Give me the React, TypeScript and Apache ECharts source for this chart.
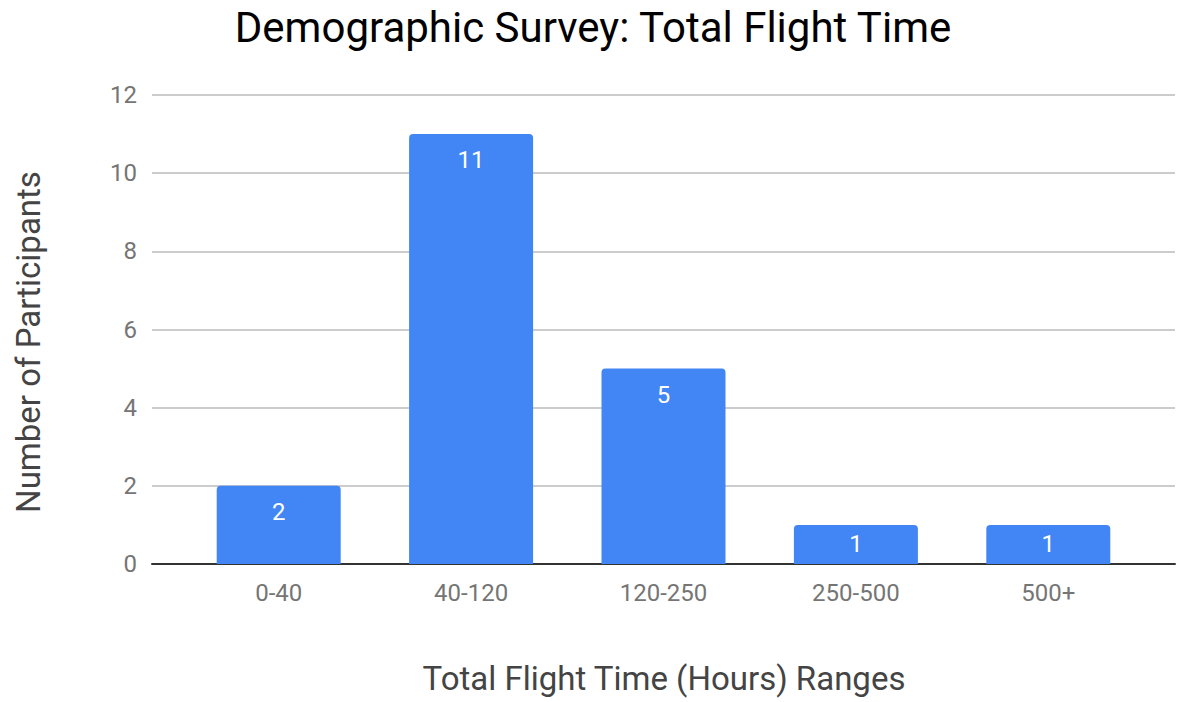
import React, { useEffect, useRef } from "react";
import * as echarts from "echarts";

const categories = ["0-40", "40-120", "120-250", "250-500", "500+"];
const participants = [2, 11, 5, 1, 1];
const yTicks = { min: 0, max: 12, interval: 2 };
const titleText = "Demographic Survey: Total Flight Time";
const xName = "Total Flight Time (Hours) Ranges";
const yName = "Number of Participants";

export default function App() {
  const ref = useRef<HTMLDivElement>(null);
  useEffect(() => {
    if (!ref.current) return;
    const chart = echarts.init(ref.current, null, { renderer: "svg" });
    const font = "Roboto";
    const barData = participants.map((v) =>
      v <= 1 ? { value: v, label: { position: "inside", distance: 0 } } : { value: v }
    );
    chart.setOption({
      animation: false,
      backgroundColor: "#ffffff",
      textStyle: { fontFamily: font },
      title: {
        text: titleText,
        left: 588,
        top: 1,
        textAlign: "center",
        textStyle: { fontFamily: font, fontSize: 42, fontWeight: "normal", color: "#000000" },
      },
      graphic: [
        {
          type: "text",
          x: 28,
          y: 342,
          rotation: Math.PI / 2,
          style: {
            text: yName,
            fontFamily: font,
            fontSize: 33,
            fill: "#444444",
            align: "center",
            verticalAlign: "middle",
          },
        },
        {
          type: "text",
          x: 664,
          y: 678,
          style: {
            text: xName,
            fontFamily: font,
            fontSize: 33,
            fill: "#444444",
            align: "center",
            verticalAlign: "middle",
          },
        },
      ],
      grid: [
        { left: 152, right: 2, top: 95, bottom: 138, outerBoundsMode: "none", containLabel: false },
        { left: 182.5, right: 32.5, top: 95, bottom: 138, outerBoundsMode: "none", containLabel: false },
      ],
      xAxis: [
        {
          type: "value",
          gridIndex: 0,
          min: 0,
          max: 1,
          axisLine: { show: true, onZero: false, lineStyle: { color: "#333333", width: 2 } },
          axisTick: { show: false },
          axisLabel: { show: false },
          splitLine: { show: false },
        },
        {
          type: "category",
          gridIndex: 1,
          data: categories,
          axisLine: { show: false },
          axisTick: { show: false },
          axisLabel: { fontFamily: font, fontSize: 24, color: "#757575", margin: 17 },
        },
      ],
      yAxis: [
        {
          type: "value",
          gridIndex: 0,
          min: yTicks.min,
          max: yTicks.max,
          interval: yTicks.interval,
          axisLine: { show: false },
          axisTick: { show: false },
          axisLabel: { fontFamily: font, fontSize: 24, color: "#757575", margin: 15 },
          splitLine: { lineStyle: { color: "#cccccc", width: 2 } },
        },
        {
          type: "value",
          gridIndex: 1,
          min: yTicks.min,
          max: yTicks.max,
          interval: yTicks.interval,
          axisLine: { show: false },
          axisTick: { show: false },
          axisLabel: { show: false },
          splitLine: { show: false },
        },
      ],
      series: [
        {
          type: "bar",
          xAxisIndex: 1,
          yAxisIndex: 1,
          data: barData,
          barWidth: 124,
          itemStyle: { color: "#4285F4", borderRadius: [4, 4, 0, 0] },
          label: {
            show: true,
            position: "insideTop",
            distance: 14,
            color: "#ffffff",
            fontFamily: font,
            fontSize: 24,
          },
          z: 3,
        },
      ],
    });
    return () => chart.dispose();
  }, []);
  return (
    <div
      ref={ref}
      style={{ position: "fixed", left: 0, top: 0, width: 1177, height: 702 }}
    />
  );
}
